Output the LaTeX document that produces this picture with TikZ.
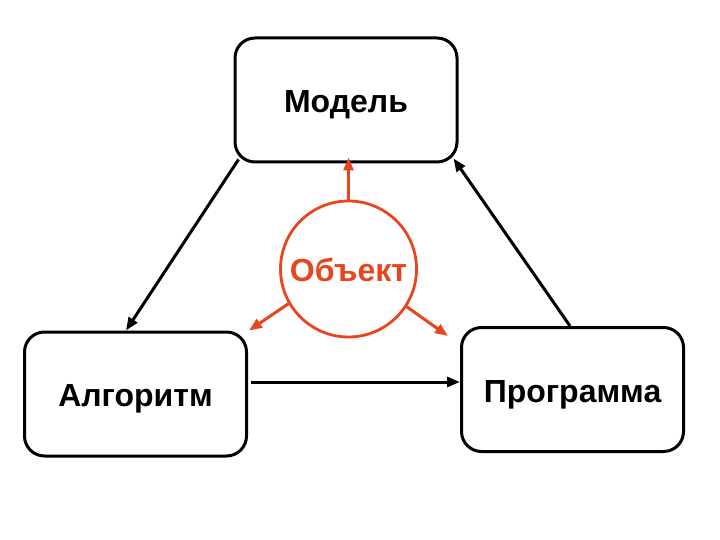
\documentclass[tikz,border=0pt]{standalone}
\usepackage{fontspec}
\setmainfont{Liberation Sans}
\usetikzlibrary{arrows.meta,calc}
\definecolor{objred}{HTML}{E8441E}
\begin{document}
\begin{tikzpicture}[x=1pt,y=-1pt,
  box/.style={draw=black,line width=3pt,rounded corners=20pt,minimum width=222pt,minimum height=124pt,font=\bfseries\fontsize{32}{34}\selectfont,inner sep=0pt,text height=25pt,text depth=0pt},
  conn/.style={line width=3pt,-{Triangle[length=13pt,width=10pt]}},
  rconn/.style={objred,line width=3pt,-{Triangle[length=13pt,width=10pt]}}]
\useasboundingbox (0,0) rectangle (720,540);
\node[box] (model) at (346,100) {Модель};
\node[box] (alg) at (135.5,394) {Алгоритм};
\node[box] (prog) at (572.5,389.5) {Программа};
\node[draw=objred,line width=2.8pt,circle,minimum size=136pt,inner sep=0pt,text=objred,font=\bfseries\fontsize{32}{34}\selectfont,text height=25pt,text depth=0pt] (obj) at (348.5,269) {Объект};
\draw[conn] ([shift={(5,-4)}]model.south west) -- ([xshift=103pt]alg.north west);
\draw[conn] ([xshift=3pt]alg.east |- 0,382) -- (prog.west |- 0,382);
\draw[conn] ([xshift=-2.5pt]prog.north) -- ([shift={(-5,-5)}]model.south east);
\draw[rconn] ([yshift=-1pt]obj.north) -- ([yshift=6pt]obj.north |- model.south);
\draw[rconn] (obj.210) -- ([shift={(1,0)}]alg.north east);
\draw[rconn] (obj.-33) -- ([shift={(-12,10)}]prog.north west);
\end{tikzpicture}
\end{document}
